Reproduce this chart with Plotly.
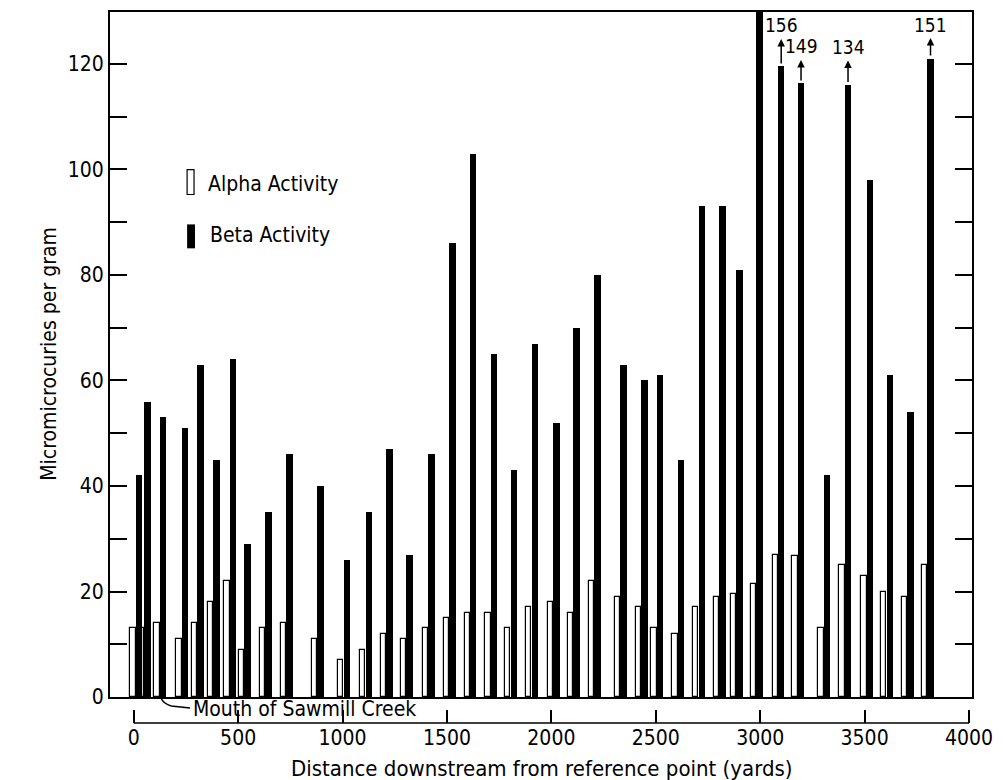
import plotly.graph_objects as go

# ---------------- data ----------------
distance_yd = [10, 50, 125, 230, 305, 380, 460, 530, 630, 730,
               880, 1005, 1110, 1210, 1305, 1410, 1510, 1610, 1710, 1805,
               1905, 2010, 2105, 2205, 2330, 2430, 2505, 2605, 2705, 2805,
               2885, 2980, 3085, 3180, 3305, 3405, 3510, 3605, 3705, 3800]
alpha_activity = [13, 13, 14, 11, 14, 18, 22, 9, 13, 14,
                  11, 7, 9, 12, 11, 13, 15, 16, 16, 13,
                  17, 18, 16, 22, 19, 17, 13, 12, 17, 19,
                  19.5, 21.5, 27, 26.7, 13, 25, 23, 20, 19, 25]
beta_activity = [42, 56, 53, 51, 63, 45, 64, 29, 35, 46,
                 40, 26, 35, 47, 27, 46, 86, 103, 65, 43,
                 67, 52, 70, 80, 63, 60, 61, 45, 93, 93,
                 81, 130, 156, 149, 42, 134, 98, 61, 54, 151]
# off-scale beta bars: index, height to which the broken bar is drawn
offscale_index = [32, 33, 35, 39]
offscale_drawn = [119.5, 116.3, 116, 121]
offscale_label_gap = [41, 37, 38, 34]

y_ticks = [0, 20, 40, 60, 80, 100, 120]
x_ticks = [0, 500, 1000, 1500, 2000, 2500, 3000, 3500, 4000]

beta_drawn = list(beta_activity)
for i, h in zip(offscale_index, offscale_drawn):
    beta_drawn[i] = h

# ---------------- layout geometry ----------------
W, H = 1003, 780
L, R, T, B = 110, 982, 10, 723      # plotting area in pixels
BASE = 697                          # pixel row of y = 0
PW, PH = R - L, B - T
FONT = "Liberation Sans Narrow, Arial Narrow, DejaVu Sans Condensed, sans-serif"


def px(x):
    return (x - L) / PW


def py(y):
    return (B - y) / PH


ALPHA_W, ALPHA_OFF = 25, -26
BETA_W, BETA_OFF = 31, 0

x_left = (L - 134) / 0.21125
x_right = (R - 134) / 0.21125
y_top = (BASE - T) / ((BASE - 62) / 120)

fig = go.Figure()
fig.add_trace(go.Bar(
    x=distance_yd, y=alpha_activity, width=ALPHA_W, offset=ALPHA_OFF,
    marker=dict(color="white", line=dict(color="black", width=1.2)),
    name="Alpha Activity", xaxis="x", yaxis="y"))
fig.add_trace(go.Bar(
    x=distance_yd, y=beta_drawn, width=BETA_W, offset=BETA_OFF,
    marker=dict(color="black", line=dict(width=0)),
    name="Beta Activity", xaxis="x", yaxis="y"))

annotations = []
for i, gap in zip(offscale_index, offscale_label_gap):
    annotations.append(dict(
        x=distance_yd[i] + BETA_W / 2, y=beta_drawn[i], xref="x", yref="y",
        text=str(beta_activity[i]), showarrow=True, ax=0, ay=-gap,
        arrowside="start", arrowhead=2, startarrowhead=2, arrowsize=1,
        startarrowsize=1, arrowwidth=1.5, arrowcolor="black",
        standoff=3, startstandoff=1,
        font=dict(family=FONT, size=19, color="black")))

# axis titles
annotations.append(dict(
    x=px(547), y=py(769), xref="paper", yref="paper", showarrow=False,
    xanchor="center", yanchor="middle",
    text="Distance downstream from reference point (yards)",
    font=dict(family=FONT, size=22, color="black")))
annotations.append(dict(
    x=px(48), y=py(353), xref="paper", yref="paper", showarrow=False,
    xanchor="center", yanchor="middle",
    text="Micromicrocuries per gram", textangle=-90,
    font=dict(family=FONT, size=21, color="black")))

# mouth of Sawmill Creek
annotations.append(dict(
    x=px(192), y=py(709), xref="paper", yref="paper", xanchor="left",
    yanchor="middle", showarrow=False, text="Mouth of Sawmill Creek",
    font=dict(family=FONT, size=21, color="black")))

# legend text
annotations.append(dict(
    x=px(207), y=py(182), xref="paper", yref="paper", xanchor="left",
    yanchor="middle", showarrow=False, text="Alpha Activity",
    font=dict(family=FONT, size=21, color="black")))
annotations.append(dict(
    x=px(209), y=py(234), xref="paper", yref="paper", xanchor="left",
    yanchor="middle", showarrow=False, text="Beta Activity",
    font=dict(family=FONT, size=21, color="black")))

hook = "M {:.5f} {:.5f} L {:.5f} {:.5f} Q {:.5f} {:.5f} {:.5f} {:.5f}".format(
    px(191), py(708), px(172), py(706), px(164), py(704), px(161), py(697))

shapes = [
    dict(type="rect", xref="paper", yref="paper",
         x0=px(188), x1=px(195), y0=py(193), y1=py(168),
         line=dict(color="black", width=1.2), fillcolor="white"),
    dict(type="rect", xref="paper", yref="paper",
         x0=px(188), x1=px(196), y0=py(247), y1=py(223),
         line=dict(width=0), fillcolor="black"),
    # the separate distance scale line below the frame
    dict(type="line", xref="paper", yref="paper",
         x0=px(134), x1=px(979), y0=0, y1=0,
         line=dict(color="black", width=1.5)),
    # pointer to the mouth of Sawmill Creek
    dict(type="path", xref="paper", yref="paper", path=hook,
         line=dict(color="black", width=1.5)),
]

fig.update_layout(
    width=W, height=H,
    margin=dict(l=L, r=W - R, t=T, b=H - B, pad=0),
    paper_bgcolor="white", plot_bgcolor="white",
    showlegend=False, barmode="overlay", bargap=0,
    font=dict(family=FONT, size=21, color="black"),
    annotations=annotations, shapes=shapes,
    xaxis=dict(range=[x_left, x_right], domain=[0, 1], anchor="y",
               showline=True, linecolor="black", linewidth=2, mirror=True,
               ticks="", showticklabels=False, showgrid=False, zeroline=False),
    xaxis2=dict(range=[x_left, x_right], domain=[0, 1], anchor="free",
                position=0, overlaying="x", showline=False,
                ticks="inside", ticklen=13, tickwidth=1.5,
                tickcolor="black", tickvals=x_ticks,
                ticktext=[str(v) for v in x_ticks], showgrid=False,
                zeroline=False, ticklabeloverflow="allow",
                tickfont=dict(family=FONT, size=21)),
    yaxis=dict(range=[0, y_top], domain=[py(BASE), 1], anchor="x",
               showline=True, linecolor="black", linewidth=2,
               mirror="allticks", ticks="inside", ticklen=17, tickwidth=1.5,
               tickcolor="black", tickvals=y_ticks,
               ticktext=[str(v) for v in y_ticks], showgrid=False,
               zeroline=False, tickfont=dict(family=FONT, size=21),
               minor=dict(ticks="inside", ticklen=8, tickwidth=1.5,
                          tickcolor="black", dtick=10, showgrid=False)),
)
# an invisible trace to activate the lower distance axis
fig.add_trace(go.Scatter(x=[0, 4000], y=[0, 0], xaxis="x2", yaxis="y",
                         mode="markers", marker=dict(opacity=0),
                         hoverinfo="skip"))

fig.write_html("out.html", config={"displayModeBar": False},
               post_script="document.body.style.margin='0';"
                           "document.body.style.overflow='hidden';")
